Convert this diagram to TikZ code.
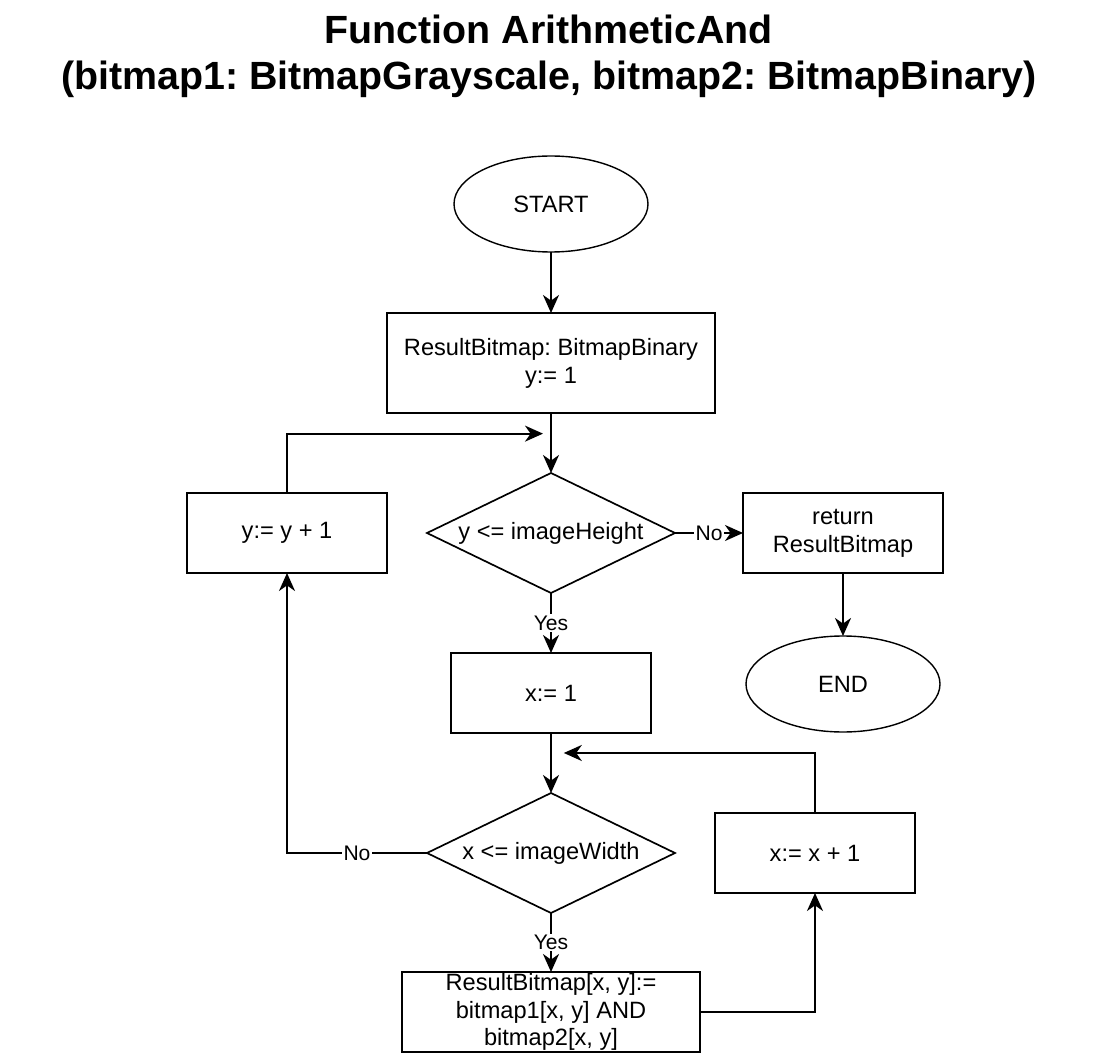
\documentclass[tikz,border=0pt]{standalone}
\usepackage{fontspec}
\setmainfont{Liberation Sans}
\frenchspacing
\usetikzlibrary{shapes.geometric, arrows.meta, positioning, calc}

\begin{document}
\begin{tikzpicture}[
  node distance=1.5cm,
  term/.style={ellipse, draw, line width=1pt, outer sep=0pt, minimum width=4.85cm,
               minimum height=2.4cm, font=\fontsize{16.8}{19.8}\selectfont},
  proc/.style={rectangle, draw, line width=1.5pt, outer sep=0pt, minimum width=5cm,
               minimum height=2cm, inner ysep=0pt, align=center,
               font=\fontsize{16.8}{19.8}\selectfont},
  cond/.style={diamond, draw, line width=1.2pt, outer sep=0pt, minimum width=6.2cm,
               minimum height=3cm, inner xsep=-1.6cm, inner ysep=0pt,
               font=\fontsize{16.8}{19.8}\selectfont},
  arrow/.style={-{Stealth[length=0.45cm, width=0.4cm, inset=0.14cm]}, line width=1.5pt},
  lbl/.style={fill=white, inner sep=1pt, font=\fontsize{15}{17}\selectfont},
]
  \useasboundingbox (0,0) rectangle (27.5,-26.45);

  \node[align=center, font=\fontsize{28}{32.7}\selectfont\bfseries] (title)
    at (13.72,-1.4)
    {Function ArithmeticAnd\\(bitmap1: BitmapGrayscale, bitmap2: BitmapBinary)};

  \node[term] (start) at (13.775,-5.1) {START};
  \node[proc, below=1.525cm of start, minimum width=8.2cm, minimum height=2.5cm]
    (init) {ResultBitmap: BitmapBinary\\y:= 1};
  \node[cond, below=of init] (condY) {y <= imageHeight};
  \node[proc, left=1cm of condY] (incY) {y:= y + 1};
  \node[proc, right=1.7cm of condY] (ret) {return\\ResultBitmap};
  \node[term, below=1.575cm of ret] (stop) {END};

  \node[proc, below=of condY] (setX) {x:= 1};
  \node[cond, below=of setX] (condX) {x <= imageWidth};
  \node[proc, right=1cm of condX] (incX) {x:= x + 1};
  \node[proc, below=1.475cm of condX, minimum width=7.45cm] (assign)
    {ResultBitmap[x, y]:=\\bitmap1[x, y] AND\\bitmap2[x, y]};

  % loop join points
  \coordinate (joinY) at ([xshift=-0.2cm]$(init.south)!0.344!(condY.north)$);
  \coordinate (joinX) at ([xshift=0.32cm]$(setX.south)!0.333!(condX.north)$);

  \draw[arrow] (start) -- (init);
  \draw[arrow] (init) -- (condY);
  \draw[arrow] (condY) -- node[lbl]{No} (ret);
  \draw[arrow] (ret) -- (stop);
  \draw[arrow] (condY) -- node[lbl]{Yes} (setX);
  \draw[arrow] (setX) -- (condX);
  \draw[arrow] (condX) -- node[lbl]{Yes} (assign);
  \draw[arrow] (assign) -| (incX);
  \draw[arrow] (incX) |- (joinX);
  \draw[arrow] (condX) -| node[lbl, pos=0.25]{No} (incY);
  \draw[arrow] (incY) |- (joinY);
\end{tikzpicture}
\end{document}
